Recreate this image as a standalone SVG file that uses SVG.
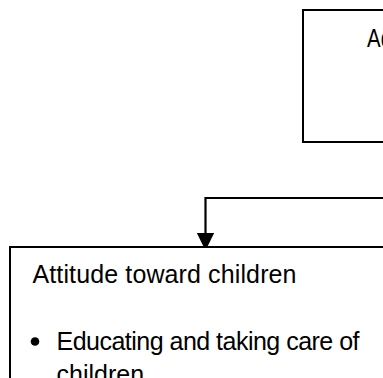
<svg xmlns="http://www.w3.org/2000/svg" width="383" height="378" viewBox="0 0 383 378">
<style>
.box{fill:#fff;stroke:#000;stroke-width:2}
.t{font-family:"Liberation Sans",Arial,sans-serif;font-size:25px;fill:#000}
.conn{fill:none;stroke:#000;stroke-width:2.2}
</style>
<rect width="383" height="378" fill="#fff"/>
<g id="node-top">
<rect class="box" x="303" y="10" width="100" height="132"/>
<text class="t" x="367" y="46.5" textLength="25" lengthAdjust="spacingAndGlyphs">Ad</text>
</g>
<g id="connectors">
<path class="conn" d="M390 198 H205.5 V236"/>
<polygon points="196.8,233 214.2,233 205.5,250.5" fill="#000"/>
</g>
<g id="node-bottom">
<rect class="box" x="10" y="247" width="400" height="160"/>
<text class="t" x="32.5" y="283" textLength="264" lengthAdjust="spacing">Attitude toward children</text>
<circle cx="35" cy="341.5" r="4.3" fill="#000"/>
<text class="t" x="56.5" y="350" textLength="303" lengthAdjust="spacing">Educating and taking care of</text>
<text class="t" x="56.5" y="383">children</text>
</g>
</svg>
